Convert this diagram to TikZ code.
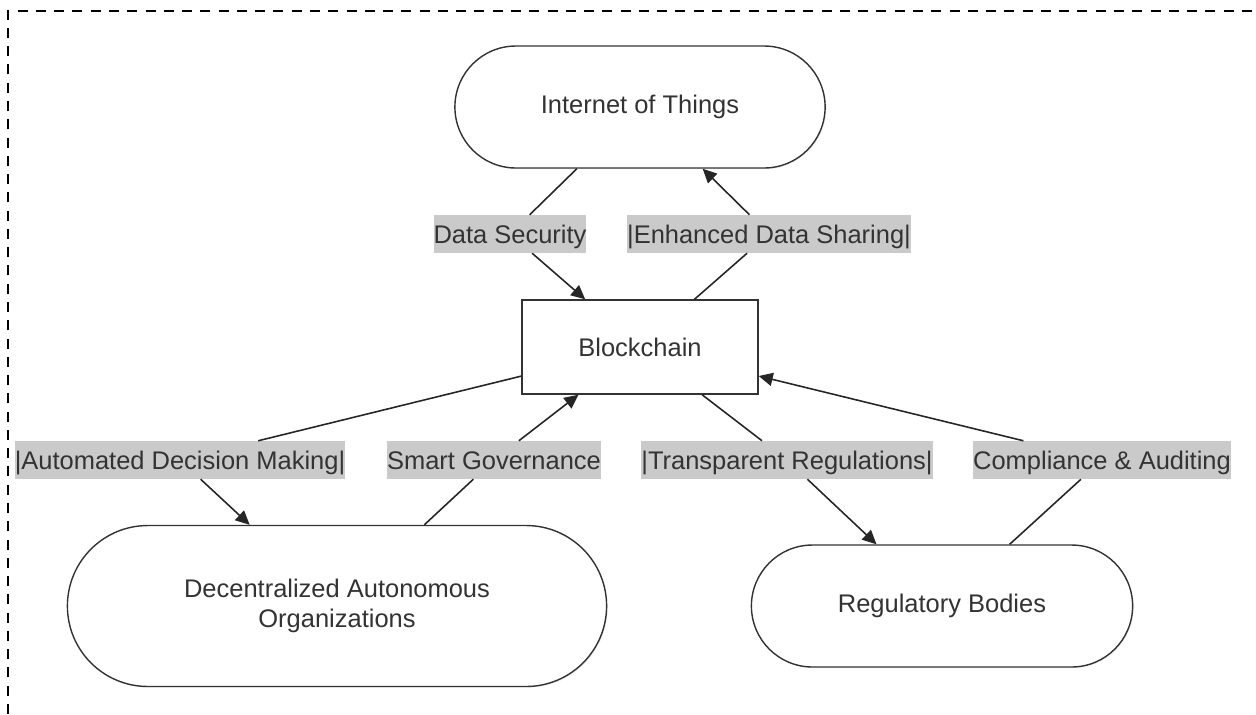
\documentclass[tikz,border=0pt]{standalone}
\usepackage{fontspec}
\setmainfont{Liberation Sans}
\usetikzlibrary{arrows.meta,shapes.misc,shadows}

\definecolor{ink}{HTML}{333333}
\definecolor{lblgray}{HTML}{CACACA}

\tikzset{
    txt/.style = {text=ink, font=\fontsize{14.5}{17}\selectfont, align=center},
    box/.style = {txt, draw=ink, line width=0.8pt, fill=white,
                  drop shadow={opacity=0.12, shadow xshift=0.7pt, shadow yshift=-0.7pt}},
    pill/.style = {box, rounded rectangle},
    lbl/.style = {txt, fill=lblgray, inner xsep=0pt, inner ysep=0pt,
                  text height=15.9pt, text depth=5.6pt},
    link/.style = {draw=black!85, line width=0.9pt},
    head /.tip = {Triangle[length=8pt,width=7.5pt]}
}

\begin{document}
\begin{tikzpicture}[x=0.02cm, y=-0.02cm]
\useasboundingbox (0,0) rectangle (1256,714);

% frame
\draw [line width=1.5pt, dash pattern=on 5.7pt off 4.7pt] (8,714) -- (8,11) -- (1256,11);

% nodes
\node [pill, minimum width=7.64cm, minimum height=2.44cm] (iot) at (640,107) {Internet of Things};
\node [box, rectangle, minimum width=4.72cm, minimum height=1.88cm] (chain) at (640,347) {Blockchain};
\node [pill, minimum width=11.02cm, minimum height=3.22cm] (dao) at (337,606)
      {Decentralized Autonomous\\Organizations};
\node [pill, minimum width=7.86cm, minimum height=2.44cm] (reg) at (942,606) {Regulatory Bodies};

% edge labels
\node [lbl] (lsec) at (510,234) {Data Security};
\node [lbl] (lshare) at (769,234) {|Enhanced Data Sharing|};
\node [lbl] (lauto) at (180,460) {|Automated Decision Making|};
\node [lbl] (lgov) at (494,460) {Smart Governance};
\node [lbl] (ltrans) at (787,460) {|Transparent Regulations|};
\node [lbl] (laudit) at (1102,460) {Compliance \& Auditing};

% edges
\draw [link] (iot) -- (lsec);
\draw [link, -{head[]}] (lsec) -- (chain);
\draw [link] (chain) -- (lshare);
\draw [link, -{head[]}] (lshare) -- (iot);

\draw [link] (chain) -- (lauto);
\draw [link, -{head[]}] (lauto) -- (dao);
\draw [link] (dao) -- (lgov);
\draw [link, -{head[]}] (lgov) -- (chain);

\draw [link] (chain) -- (ltrans);
\draw [link, -{head[]}] (ltrans) -- (reg);
\draw [link] (reg) -- (laudit);
\draw [link, -{head[]}] (laudit) -- (chain);
\end{tikzpicture}
\end{document}
